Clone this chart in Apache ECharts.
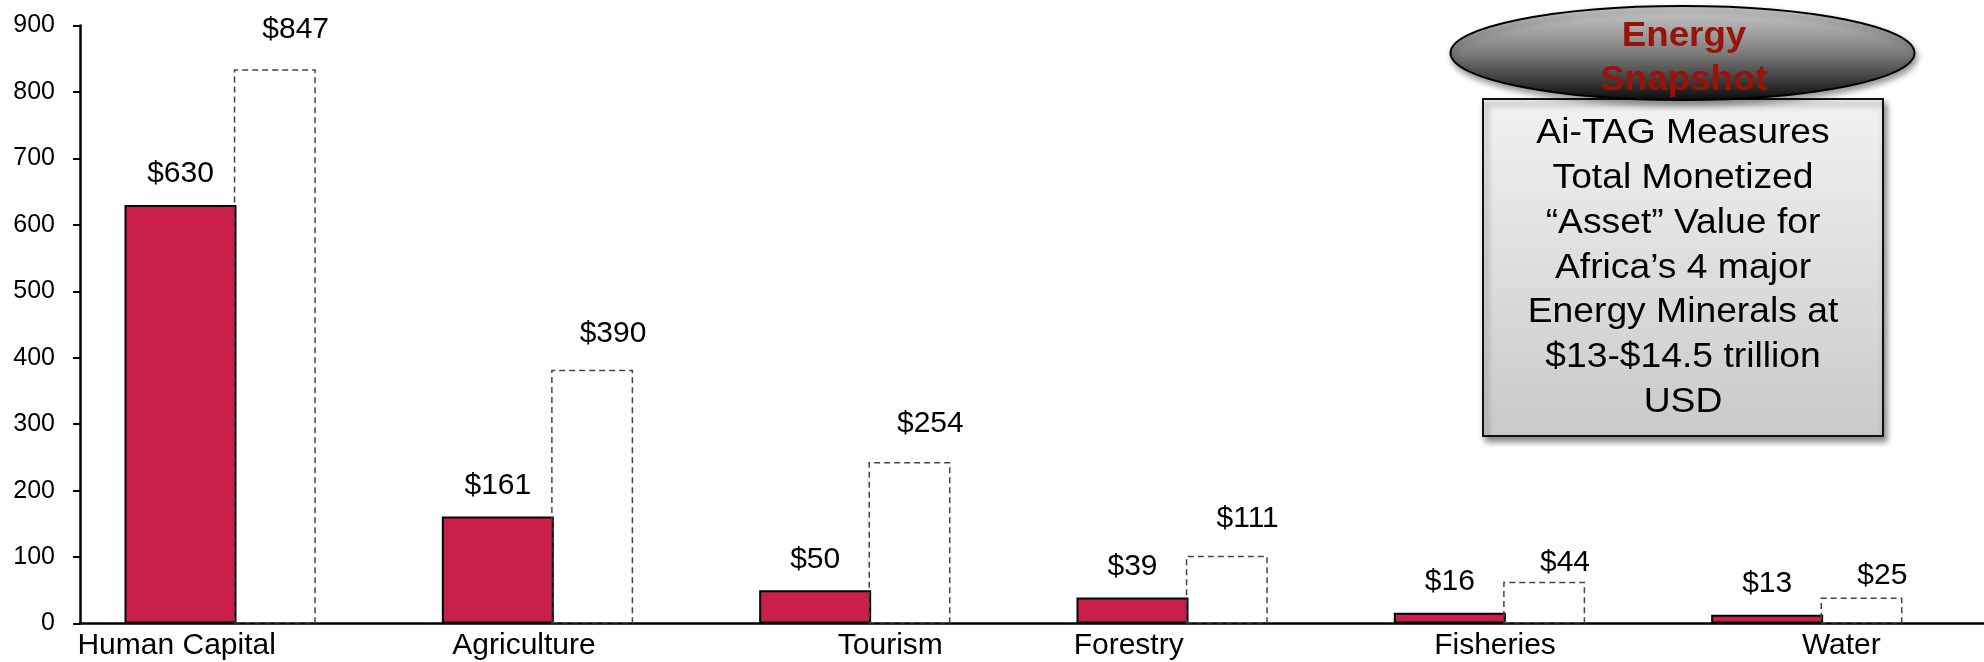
<!DOCTYPE html>
<html>
<head>
<meta charset="utf-8">
<script src="https://cdn.jsdelivr.net/npm/echarts@6/dist/echarts.min.js"></script>
<style>
html,body{margin:0;padding:0;background:#fff;}
#chart{width:1984px;height:662px;}
</style>
</head>
<body>
<div id="chart"></div>
<script>
// ---- data ----
const categories = ['Human Capital', 'Agriculture', 'Tourism', 'Forestry', 'Fisheries', 'Water'];
const currentValues = [630, 161, 50, 39, 16, 13];          // solid red bars (labelled)
const potentialBarHeights = [834, 382, 243, 102, 63, 39];   // dashed outline bars as drawn
const potentialLabelValues = [847, 390, 254, 111, 44, 25];  // dashed bar labels
const yMin = 0, yMax = 900, yStep = 100;
const calloutTitle = 'Energy\nSnapshot';
const calloutLines = [
  'Ai-TAG Measures',
  'Total Monetized',
  '\u201CAsset\u201D Value for',
  'Africa\u2019s 4 major',
  'Energy Minerals at',
  '$13-$14.5 trillion',
  'USD'
];

// ---- style ----
const FONT = '"Liberation Sans", Arial, Helvetica, sans-serif';
const catLabelShift = [-62, -32, 17, -62, -13, 16];
const rich = {};
catLabelShift.forEach(function (dx, i) {
  rich['c' + i] = {
    fontSize: 30, fontFamily: FONT, color: '#000',
    padding: dx < 0 ? [0, -2 * dx, 0, 0] : [0, 0, 0, 2 * dx]
  };
});

const chart = echarts.init(document.getElementById('chart'), null, {renderer: 'canvas'});

const option = {
  animation: false,
  backgroundColor: '#fff',
  grid: {left: 80, right: 0, top: 25.5, bottom: 38.5},
  xAxis: {
    type: 'category',
    data: categories,
    axisLine: {show: true, lineStyle: {color: '#000', width: 2.5}},
    axisTick: {show: false},
    axisLabel: {
      interval: 0,
      margin: 7,
      fontSize: 30,
      fontFamily: FONT,
      color: '#000',
      formatter: function (v, i) { return '{c' + i + '|' + v + '}'; },
      rich: rich
    },
    splitLine: {show: false}
  },
  yAxis: {
    type: 'value',
    min: yMin, max: yMax, interval: yStep,
    axisLine: {show: true, lineStyle: {color: '#000', width: 2.5}},
    axisTick: {show: true, inside: false, length: 7, lineStyle: {color: '#000', width: 2}},
    axisLabel: {fontSize: 25, fontFamily: FONT, color: '#000', margin: 25},
    splitLine: {show: false}
  },
  series: [
    {
      type: 'bar',
      name: 'Current',
      data: currentValues,
      barWidth: 112,
      barGap: '-2.4%',
      itemStyle: {color: '#CB1F4B', borderColor: '#000', borderWidth: 2},
      label: {
        show: true, position: 'top', distance: 16,
        fontSize: 30, lineHeight: 30, fontFamily: FONT, color: '#000',
        formatter: function (p) { return '$' + p.value; }
      },
      z: 2
    },
    {
      type: 'bar',
      name: 'Potential',
      data: potentialBarHeights,
      barWidth: 82,
      barGap: '-2.4%',
      itemStyle: {color: 'rgba(255,255,255,0)', borderColor: '#444', borderWidth: 1.5, borderType: [6, 4]},
      z: 3
    },
    {
      type: 'bar',
      name: 'spacer',
      data: categories.map(function () { return '-'; }),
      barWidth: 39,
      barGap: '-2.4%',
      silent: true
    },
    {
      type: 'scatter',
      name: 'Potential labels',
      data: potentialLabelValues,
      symbol: 'circle',
      symbolSize: 0.1,
      itemStyle: {color: 'rgba(0,0,0,0)', opacity: 1},
      label: {
        show: true, position: 'top', distance: 16, offset: [57, 0],
        fontSize: 30, lineHeight: 30, fontFamily: FONT, color: '#000', opacity: 1,
        formatter: function (p) { return '$' + p.value; }
      },
      z: 4
    }
  ],
  graphic: [
    {
      type: 'rect',
      shape: {x: 1483, y: 99, width: 400, height: 337},
      style: {
        fill: new echarts.graphic.LinearGradient(0, 0, 0, 1, [
          {offset: 0, color: '#f2f2f2'},
          {offset: 1, color: '#c9c9c9'}
        ]),
        stroke: '#111', lineWidth: 2,
        shadowBlur: 6, shadowOffsetX: 3, shadowOffsetY: 5, shadowColor: 'rgba(0,0,0,0.45)'
      },
      z: 100
    },
    {
      type: 'ellipse',
      shape: {cx: 1682.5, cy: 53, rx: 232, ry: 47},
      style: {
        fill: new echarts.graphic.LinearGradient(0, 0, 0, 1, [
          {offset: 0, color: '#d0d0d0'},
          {offset: 0.5, color: '#7d7d7d'},
          {offset: 1, color: '#0a0a0a'}
        ]),
        stroke: '#000', lineWidth: 2,
        shadowBlur: 6, shadowOffsetX: 2, shadowOffsetY: 4, shadowColor: 'rgba(0,0,0,0.4)'
      },
      z: 101
    },
    {
      type: 'text',
      x: 1684, y: 58,
      scaleX: 1.05,
      style: {
        text: calloutTitle,
        fill: '#9B1208',
        font: 'bold 35px ' + FONT,
        lineHeight: 44,
        align: 'center',
        verticalAlign: 'middle'
      },
      z: 102
    },
    {
      type: 'text',
      x: 1683, y: 268,
      scaleX: 1.08,
      style: {
        text: calloutLines.join('\n'),
        fill: '#000',
        font: '34.5px ' + FONT,
        lineHeight: 44.8,
        align: 'center',
        verticalAlign: 'middle'
      },
      z: 102
    }
  ]
};
chart.setOption(option);
</script>
</body>
</html>
